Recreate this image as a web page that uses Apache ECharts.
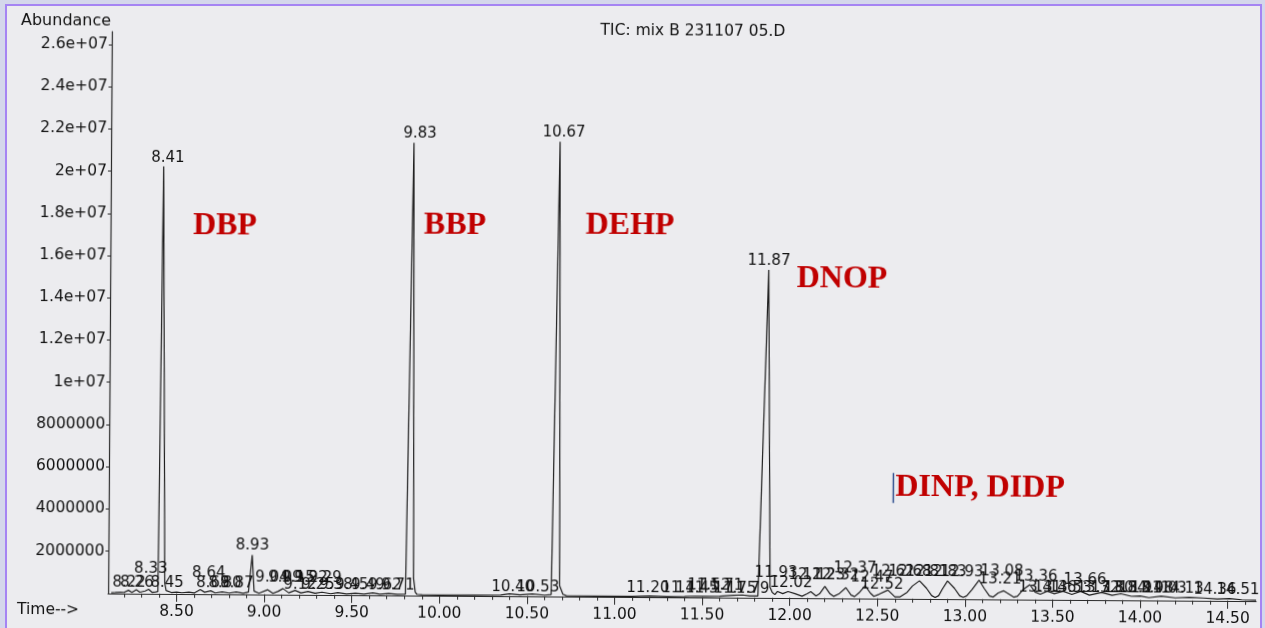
<!DOCTYPE html>
<html>
<head>
<meta charset="utf-8">
<script src="https://cdn.jsdelivr.net/npm/echarts@6/dist/echarts.min.js"></script>
<style>
html,body{margin:0;padding:0;overflow:hidden;width:1265px;height:628px;background:#d4d7eb;}
#frame{position:absolute;left:5px;top:4px;width:1257px;height:640px;background:#ececef;border:2px solid #a584f3;box-sizing:border-box;}
#chart{position:absolute;left:0;top:0;width:1265px;height:628px;transform:rotate(0.38deg);}
</style>
</head>
<body>
<div id="frame"></div>
<div id="chart"></div>
<script>
// ---- data ----
const traceTime = [
 8.127,8.15,8.18,8.20,8.225,8.245,8.27,8.29,8.32,8.34,8.36,8.38,8.393,8.41,8.432,8.44,
 8.47,8.50,8.53,8.57,8.60,8.635,8.66,8.695,8.72,8.76,8.80,8.84,8.88,8.91,8.93,8.942,
 8.97,9.02,9.05,9.08,9.107,9.14,9.176,9.21,9.25,9.29,9.33,9.38,9.42,9.47,9.52,9.57,
 9.62,9.66,9.71,9.76,9.806,9.838,9.852,9.862,9.872,9.90,10.00,10.20,10.35,10.40,10.46,
 10.53,10.60,10.638,10.672,10.686,10.705,10.725,10.90,11.10,11.20,11.30,11.40,11.46,
 11.52,11.60,11.68,11.73,11.77,11.818,11.868,11.887,11.90,11.915,11.93,11.96,11.99,
 12.03,12.07,12.10,12.12,12.15,12.17,12.20,12.23,12.25,12.28,12.32,12.35,12.37,12.40,
 12.43,12.46,12.48,12.51,12.56,12.60,12.63,12.67,12.70,12.74,12.78,12.81,12.83,12.85,
 12.87,12.90,12.94,12.97,12.99,13.01,13.04,13.08,13.11,13.14,13.16,13.19,13.22,13.25,
 13.28,13.30,13.33,13.37,13.40,13.43,13.47,13.51,13.56,13.61,13.66,13.71,13.78,13.84,
 13.89,13.95,14.00,14.05,14.12,14.20,14.28,14.36,14.44,14.51,14.58,14.662
];
const traceAbundance = [
 3e4,4e4,6e4,5e4,1.5e5,5e4,1.8e5,6e4,1.2e5,2.0e5,6e4,8e4,1.0e5,2.024e7,5e5,1.5e5,
 6e4,8e4,5e4,8e4,4e4,2.0e5,8e4,1.5e5,5e4,1.0e5,5e4,1.0e5,4e4,1.0e5,1.86e6,1.5e5,
 5e4,2.2e5,5e4,1.5e5,2.8e5,8e4,2.0e5,8e4,1.5e5,7e4,1.2e5,5e4,1.0e5,4e4,8e4,4e4,
 1.0e5,4e4,8e4,4e4,5e4,2.144e7,8e5,1.5e5,5e4,3e4,2e4,3e4,4e4,1.0e5,6e4,
 1.0e5,5e4,8e4,2.153e7,5e5,1.0e5,3e4,2e4,2e4,4e4,2e4,3e4,5e4,
 4e4,6e4,1.0e5,1.2e5,8e4,8e4,1.553e7,5e5,2.5e5,1.5e5,3.0e5,2.0e5,3.0e5,
 2.0e5,8e4,2.0e5,3.0e5,1.0e5,2.0e5,5.5e5,2.0e5,8e4,2.0e5,5.0e5,1.5e5,8e4,3.0e5,
 6.0e5,2.5e5,1.0e5,2.0e5,4.0e5,8e4,8e4,3.0e5,6.0e5,8.5e5,5.0e5,1.5e5,6e4,1.5e5,
 4.5e5,8.5e5,5.0e5,1.5e5,7e4,1.5e5,4.5e5,9.0e5,5.0e5,1.5e5,1.0e5,3.0e5,4.0e5,2.5e5,
 1.0e5,1.5e5,4.5e5,7.0e5,3.5e5,2.5e5,4.0e5,2.8e5,4.0e5,2.5e5,4.0e5,2.2e5,3.5e5,2.2e5,
 3.0e5,1.8e5,2.0e5,1.2e5,2.0e5,1.2e5,1.5e5,1.2e5,8e4,1.0e5,5e4,3e4
];

// peak retention-time labels: text, horizontal position (min), label level (abundance)
const peakLabelText = [
 "8.41","9.83","10.67","11.87","8.93","8.33","8.64",
 "8.22","8.26","8.45","8.69","8.80","8.87",
 "9.04","9.09","9.15","9.22","9.29",
 "9.12","9.25","9.38","9.45","9.49","9.62","9.71",
 "10.40","10.53","11.20","11.41","11.45","11.52","11.71","11.75","11.79",
 "11.93","12.02","12.12","12.23","12.32","12.37","12.47","12.52",
 "12.62","12.68","12.81","12.83","12.93","13.08","13.21","13.36",
 "13.41","13.46","13.53","13.66","13.72","13.80","13.84","13.91","13.98","14.03","14.13",
 "14.36","14.51"
];
const peakLabelTime = [
 8.434,9.872,10.694,11.869,8.931,8.352,8.683,
 8.228,8.273,8.445,8.707,8.776,8.844,
 9.044,9.118,9.192,9.267,9.347,
 9.204,9.307,9.409,9.500,9.592,9.689,9.763,
 10.419,10.562,11.190,11.390,11.470,11.538,11.612,11.687,11.761,
 11.921,12.007,12.114,12.194,12.274,12.372,12.469,12.526,
 12.589,12.686,12.783,12.886,12.983,13.211,13.200,13.405,
 13.428,13.514,13.600,13.685,13.760,13.840,13.914,14.000,14.068,14.143,14.240,
 14.427,14.558
];
const peakLabelLevel = [
 2.065e7,2.187e7,2.196e7,1.596e7,2.29e6,1.17e6,9.9e5,
 5.0e5,5.0e5,5.0e5,5.0e5,5.0e5,5.0e5,
 8.0e5,8.0e5,8.0e5,8.0e5,8.0e5,
 4.5e5,4.5e5,4.5e5,4.5e5,4.5e5,4.5e5,4.5e5,
 4.0e5,4.0e5,4.0e5,4.0e5,4.0e5,5.5e5,5.5e5,4.0e5,4.0e5,
 1.18e6,7.0e5,1.09e6,1.09e6,1.09e6,1.39e6,9.7e5,6.4e5,
 1.27e6,1.27e6,1.27e6,1.27e6,1.27e6,1.30e6,9.1e5,1.07e6,
 5.5e5,5.5e5,5.5e5,9.4e5,5.5e5,5.5e5,5.5e5,5.5e5,5.5e5,5.5e5,5.5e5,
 5.0e5,5.1e5
];

// compound annotations
const compoundText  = ["DBP","BBP","DEHP","DNOP","DINP, DIDP"];
const compoundTime  = [8.762,10.075,11.074,12.286,13.082];
const compoundLevel = [1.7445e7,1.7516e7,1.757e7,1.5128e7,5.265e6];
const cursorTime = 12.587;
const cursorLevels = [5.95e6, 4.53e6];

// axes
const X_MIN = 8.109, X_MAX = 14.662, Y_MAX = 2.661e7;
const xMajorTicks = [8.5,9.0,9.5,10.0,10.5,11.0,11.5,12.0,12.5,13.0,13.5,14.0,14.5];
const xMajorLabels = ["8.50","9.00","9.50","10.00","10.50","11.00","11.50","12.00","12.50","13.00","13.50","14.00","14.50"];
const xMinorTicks = [8.2,8.3,8.4,8.5,8.6,8.7,8.8,8.9,9.0,9.1,9.2,9.3,9.4,9.5,9.6,9.7,9.8,9.9,10.0,
 10.1,10.2,10.3,10.4,10.5,10.6,10.7,10.8,10.9,11.0,11.1,11.2,11.3,11.4,11.5,11.6,11.7,11.8,11.9,12.0,
 12.1,12.2,12.3,12.4,12.5,12.6,12.7,12.8,12.9,13.0,13.1,13.2,13.3,13.4,13.5,13.6,13.7,13.8,13.9,14.0,
 14.1,14.2,14.3,14.4,14.5,14.6];
const yTickValues = [2e6,4e6,6e6,8e6,1e7,1.2e7,1.4e7,1.6e7,1.8e7,2e7,2.2e7,2.4e7,2.6e7];
const yTickLabels = ["2000000","4000000","6000000","8000000","1e+07","1.2e+07","1.4e+07","1.6e+07","1.8e+07","2e+07","2.2e+07","2.4e+07","2.6e+07"];

const titleText = "TIC: mix B 231107 05.D";
const yName = "Abundance";
const xName = "Time-->";

// ---- build chart ----
const FONT = "DejaVu Sans";
const INK = "#111111";
const AX = "#2a2a2a";
const chart = echarts.init(document.getElementById('chart'), null, {renderer:'canvas'});

function nearestIdx(arr, v){ let b=0; for(let i=1;i<arr.length;i++){ if(Math.abs(arr[i]-v)<Math.abs(arr[b]-v)) b=i; } return b; }

const option = {
  animation: false,
  backgroundColor: 'transparent',
  grid: {left:110, right:7, top:35, bottom:31.2, containLabel:false},
  title: {text: titleText, left: 686, top: 18, textAlign:'center',
          textStyle:{fontFamily:FONT, fontSize:15.5, fontWeight:'normal', color:INK}},
  graphic: [
    {type:'text', x:19, y:25, style:{text:yName, font:'16px "DejaVu Sans"', fill:INK, align:'left', verticalAlign:'middle'}},
    {type:'text', x:19, y:614, style:{text:xName, font:'15.5px "DejaVu Sans"', fill:INK, align:'left', verticalAlign:'middle'}}
  ],
  xAxis: [
    {type:'value', min:X_MIN, max:X_MAX, position:'bottom',
     axisLine:{show:true, onZero:false, lineStyle:{color:AX, width:1.2}},
     axisTick:{show:true, customValues:xMinorTicks, length:4, lineStyle:{color:AX}},
     axisLabel:{show:false}, splitLine:{show:false}},
    {type:'value', min:X_MIN, max:X_MAX, position:'bottom',
     axisLine:{show:false, onZero:false},
     axisTick:{show:true, customValues:xMajorTicks, length:8, lineStyle:{color:AX}},
     axisLabel:{show:true, customValues:xMajorTicks, margin:10,
       formatter: v => xMajorLabels[nearestIdx(xMajorTicks, v)],
       fontFamily:FONT, fontSize:15.5, color:INK},
     splitLine:{show:false}}
  ],
  yAxis: {type:'value', min:0, max:Y_MAX,
     axisLine:{show:true, onZero:false, lineStyle:{color:AX, width:1.2}},
     axisTick:{show:true, customValues:yTickValues, length:3, lineStyle:{color:AX}},
     axisLabel:{show:true, customValues:yTickValues, margin:4,
       formatter: v => yTickLabels[nearestIdx(yTickValues, v)],
       fontFamily:FONT, fontSize:15.5, color:INK},
     splitLine:{show:false}},
  series: [
    {name:'TIC', type:'line', xAxisIndex:0, symbol:'none', z:3,
     data: traceTime.map((t,i)=>[t, traceAbundance[i]]),
     lineStyle:{color:'#1e1e1e', width:1.2}},
    {name:'peak labels', type:'scatter', xAxisIndex:0, symbolSize:1, z:4,
     itemStyle:{color:'rgba(0,0,0,0)', opacity:1},
     data: peakLabelTime.map((t,i)=>[t, peakLabelLevel[i]]),
     label:{show:true, position:'inside', formatter: p => peakLabelText[p.dataIndex],
       fontFamily:FONT, fontSize:15, color:INK, opacity:1}},
    {name:'compounds', type:'scatter', xAxisIndex:0, symbolSize:1, z:5,
     itemStyle:{color:'rgba(0,0,0,0)', opacity:1},
     data: compoundTime.map((t,i)=>[t, compoundLevel[i]]),
     label:{show:true, position:'inside', formatter: p => compoundText[p.dataIndex],
       fontFamily:'Liberation Serif', fontWeight:'bold', fontSize:32, color:'#c00000', opacity:1}},
    {name:'cursor', type:'line', xAxisIndex:0, symbol:'none', z:5,
     data: cursorLevels.map(v=>[cursorTime, v]),
     lineStyle:{color:'#2f4f8f', width:1.5}}
  ]
};
chart.setOption(option);
</script>
</body>
</html>
